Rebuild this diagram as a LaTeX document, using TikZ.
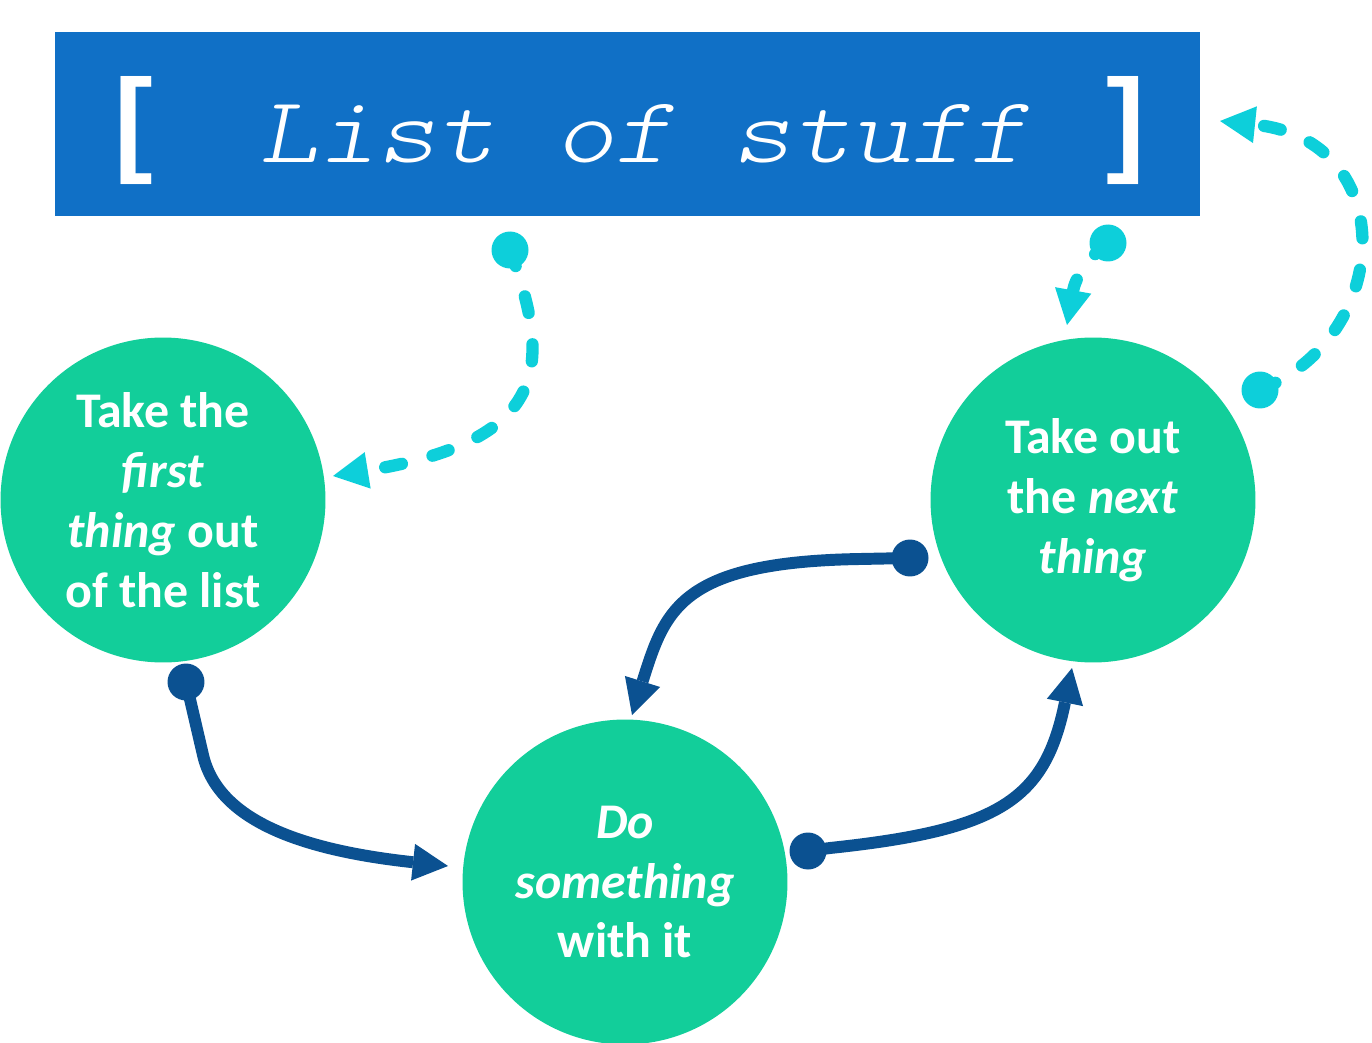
\documentclass[tikz,border=0pt]{standalone}
\usepackage{fontspec}
\setmainfont{Carlito}
\newfontfamily\titlefont{lmmonolt10-oblique.otf}[FakeStretch=1.2]
\newfontfamily\bracketfont{Liberation Sans}
\usetikzlibrary{arrows.meta}
\definecolor{titleblue}{RGB}{16,112,198}
\definecolor{nodegreen}{RGB}{18,206,154}
\definecolor{arrowblue}{RGB}{11,81,145}
\definecolor{arrowcyan}{RGB}{13,207,218}
\begin{document}
\begin{tikzpicture}[x=0.02cm,y=-0.02cm,
 titlebox/.style={fill=titleblue, minimum width=22.9cm, minimum height=3.68cm, inner sep=0pt},
 titletext/.style={text=white, inner sep=0pt, font=\titlefont\fontsize{53.5pt}{60pt}\selectfont},
 brackettext/.style={text=white, inner sep=0pt, font=\bracketfont\bfseries\fontsize{66pt}{70pt}\selectfont},
 stepcircle/.style={circle, fill=nodegreen, minimum size=6.5cm, inner sep=0pt, text=white, align=center, font=\bfseries\fontsize{28.4pt}{34.1pt}\selectfont},
 darkdot/.style={circle, fill=arrowblue, minimum size=0.74cm, inner sep=0pt},
 cyandot/.style={circle, fill=arrowcyan, minimum size=0.74cm, inner sep=0pt},
 darkarrow/.style={draw=arrowblue, line width=6.8pt, -{Triangle[length=20pt,width=21pt,line width=0pt]}},
 cyanarrow/.style={draw=arrowcyan, line width=7pt, line cap=round, dash pattern=on 9.7pt off 18pt, -{Triangle[length=20pt,width=21pt,line width=0pt]}},
]
\useasboundingbox (0,0) rectangle (1372,1043);

% title bar
\node[titlebox] (title) at (627.5,124) {};
\node[titletext, anchor=base] (titlelabel) at (644,163) {List of stuff};
\node[brackettext, anchor=base] (lbr) at (134,161) {[};
\node[brackettext, anchor=base] (rbr) at (1126,161) {]};

% step circles
\node[stepcircle] (first) at (163,500) {Take the\\\textit{first}\\\textit{thing} out\\of the list};
\node[stepcircle] (next) at (1093,500) {Take out\\the \textit{next}\\\textit{thing}};
\node[stepcircle] (do) at (625,882) {\textit{Do}\\\textit{something}\\with it};

% dots
\node[darkdot] (d1) at (186,682) {};
\node[darkdot] (d2) at (910,558) {};
\node[darkdot] (d3) at (808,851) {};
\node[cyandot] (c1) at (510,250) {};
\node[cyandot] (c2) at (1108,243) {};
\node[cyandot] (c3) at (1260,390) {};

% arrow tips
\coordinate (e1) at (448,866);
\coordinate (e2) at (632,715);
\coordinate (e3) at (1072,668);
\coordinate (f1) at (333,476);
\coordinate (f2) at (1067,325);
\coordinate (f3) at (1220,121);

% dark connectors
\draw[darkarrow] (d1.center) -- (203,755) .. controls (218,820) and (300,850) .. (e1);
\draw[darkarrow] (d2.center) -- (860,559) .. controls (680,562) and (665,610) .. (e2);
\draw[darkarrow] (d3.center) -- (830,848) .. controls (1000,830) and (1045,800) .. (e3);

% cyan dashed connectors
\draw[cyanarrow] (c1.center) .. controls (550,360) and (555,440) .. (f1);
\draw[cyanarrow] (c2.center) .. controls (1085,260) and (1075,280) .. (f2);
\draw[cyanarrow] (c3.center) .. controls (1395,335) and (1400,140) .. (f3);
\end{tikzpicture}
\end{document}
